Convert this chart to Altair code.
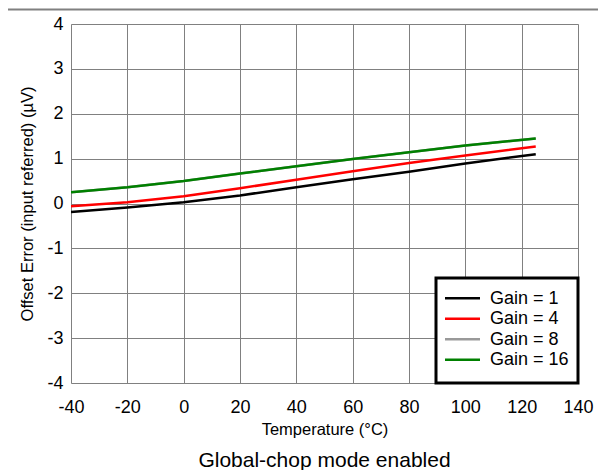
import altair as alt
import pandas as pd

temps = [-40, -20, 0, 20, 40, 60, 80, 100, 125]
gain1 = [-0.19, -0.09, 0.03, 0.18, 0.36, 0.54, 0.71, 0.89, 1.10]
gain4 = [-0.06, 0.03, 0.16, 0.34, 0.53, 0.72, 0.90, 1.07, 1.27]
gain8 = [0.25, 0.36, 0.50, 0.67, 0.83, 0.99, 1.14, 1.29, 1.45]
gain16 = [0.25, 0.36, 0.50, 0.67, 0.83, 0.99, 1.14, 1.29, 1.45]
series = ["Gain = 1", "Gain = 4", "Gain = 8", "Gain = 16"]
colors = ["#000000", "#ff0000", "#999999", "#008000"]
x_ticks = [-40, -20, 0, 20, 40, 60, 80, 100, 120, 140]
y_ticks = [-4, -3, -2, -1, 0, 1, 2, 3, 4]
x_title = "Temperature (°C)"
y_title = "Offset Error (input referred) (µV)"
subtitle = "Global-chop mode enabled"

FONT = "Liberation Sans, Arial, Helvetica, sans-serif"
W, H = 507, 359

rows = []
for name, vals in zip(series, [gain1, gain4, gain8, gain16]):
    for t, v in zip(temps, vals):
        rows.append({"T": t, "V": v, "series": name})
df = pd.DataFrame(rows)

xenc = alt.X(
    "T:Q",
    scale=alt.Scale(domain=[-40, 140], nice=False, zero=False),
    axis=alt.Axis(values=x_ticks, title=x_title, ticks=False, tickSize=0, domain=False,
                  labelExpr="datum.value + ''",
                  labelFontSize=18, labelPadding=15, labelFont=FONT, labelColor="#000",
                  titleFontSize=16.5, titleFont=FONT, titleFontWeight="normal", titleColor="#000",
                  titleBaseline="alphabetic", titleY=51,
                  grid=True, gridColor="#808080", gridWidth=1, gridOpacity=1,
                  labelFlush=False, labelOverlap=False),
)
yenc = alt.Y(
    "V:Q",
    scale=alt.Scale(domain=[-4, 4], nice=False, zero=False),
    axis=alt.Axis(values=y_ticks, title=y_title, ticks=False, tickSize=0, domain=False,
                  labelExpr="datum.value + ''",
                  labelFontSize=18, labelPadding=8, labelFont=FONT, labelColor="#000",
                  titleFontSize=16.5, titleFont=FONT, titleFontWeight="normal", titleColor="#000",
                  titleBaseline="alphabetic", titleX=-39,
                  grid=True, gridColor="#808080", gridWidth=1, gridOpacity=1,
                  labelFlush=False, labelOverlap=False),
)

lines = alt.Chart(df).mark_line(strokeWidth=2.5, clip=True).encode(
    x=xenc,
    y=yenc,
    color=alt.Color("series:N", scale=alt.Scale(domain=series, range=colors), legend=None),
)

layers = [lines]

# legend box
layers.append(
    alt.Chart(pd.DataFrame({"a": [0]})).mark_rect(fill="white", stroke="black", strokeWidth=3).encode(
        x=alt.value(365), x2=alt.value(507), y=alt.value(254), y2=alt.value(359)
    )
)
for i, (name, col) in enumerate(zip(series, colors)):
    yy = 274.3 + 20.5 * i
    d = pd.DataFrame({"series": [name]})
    layers.append(
        alt.Chart(d).mark_rule(color=col, strokeWidth=2.5).encode(
            x=alt.value(374), x2=alt.value(409), y=alt.value(yy)
        )
    )
    layers.append(
        alt.Chart(d).mark_text(align="left", baseline="middle", fontSize=18, font=FONT, color="#000").encode(
            x=alt.value(419), y=alt.value(yy + 0.5), text="series:N"
        )
    )

# subtitle below the plot
layers.append(
    alt.Chart(pd.DataFrame({"t": [subtitle]})).mark_text(
        align="center", baseline="alphabetic", fontSize=21, font=FONT, color="#000", clip=False
    ).encode(x=alt.value(W / 2), y=alt.value(442.7), text="t:N")
)

# thin gray separator line at the top
layers.append(
    alt.Chart(pd.DataFrame({"a": [0]})).mark_rule(color="#808080", strokeWidth=2, clip=False).encode(
        x=alt.value(-63), x2=alt.value(527), y=alt.value(-14.5)
    )
)

chart = alt.layer(*layers).properties(
    width=W, height=H,
    autosize=alt.AutoSizeParams(type="none"),
    padding={"left": 63, "top": 16, "right": 20, "bottom": 87},
).configure_view(stroke="black", strokeWidth=3).configure(background="white")

chart.save("out.html", embed_options={"renderer": "svg", "actions": False})
